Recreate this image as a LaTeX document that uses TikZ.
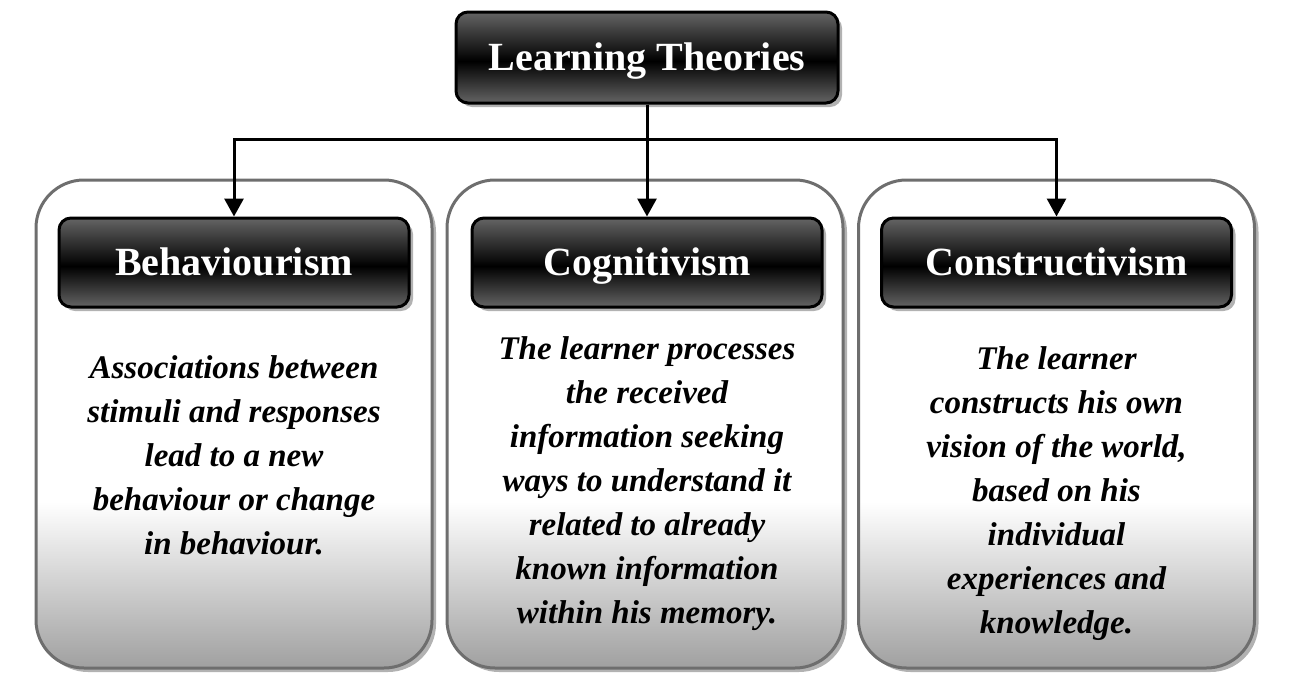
\documentclass[tikz,border=0pt]{standalone}
\usepackage{fontspec}
\setmainfont{Liberation Serif}
\usetikzlibrary{shadows,arrows.meta,calc}

\definecolor{hdgray}{RGB}{100,100,100}
\definecolor{pnlgray}{RGB}{160,160,160}
\definecolor{pnlborder}{RGB}{110,110,110}

% glossy dark fill for the title and heading boxes
\pgfdeclareverticalshading{glossdark}{100bp}{color(0bp)=(hdgray); color(25bp)=(hdgray); color(48bp)=(black); color(75bp)=(hdgray); color(100bp)=(hdgray)}
% white panel fading to grey at the bottom
\pgfdeclareverticalshading{panelfade}{100bp}{color(0bp)=(pnlgray); color(25bp)=(pnlgray); color(42bp)=(white); color(100bp)=(white)}

\tikzset{
  softshadow/.style={drop shadow={shadow xshift=4pt, shadow yshift=-4pt, fill=black, opacity=0.3}},
  panel/.style={draw=pnlborder, line width=3pt, rounded corners=48pt,
    minimum width=396pt, minimum height=488pt, shading=panelfade, softshadow},
  headbox/.style={draw=black, line width=3pt, rounded corners=12pt,
    minimum width=350pt, minimum height=89pt, shading=glossdark, softshadow,
    text=white, text height=31pt, text depth=5pt,
    font=\fontsize{40}{48}\selectfont\bfseries},
  body/.style={align=center, text=black, font=\fontsize{33}{44}\selectfont\bfseries\itshape},
  conn/.style={line width=3pt, -{Triangle[width=19pt,length=18pt]}},
}

\begin{document}
\begin{tikzpicture}[x=1pt,y=-1pt]
  \useasboundingbox (0,0) rectangle (1291,694);

  % panels
  \node[panel] (p1) at (234,424) {};
  \node[panel] (p2) at (645,424) {};
  \node[panel] (p3) at (1056.5,424) {};

  % title and headings
  \node[headbox, minimum width=382pt, minimum height=91pt] (title) at (647,57.5) {Learning Theories};
  \node[headbox] (h1) at (234,262.5) {Behaviourism};
  \node[headbox] (h2) at (647,262.5) {Cognitivism};
  \node[headbox] (h3) at (1056.5,262.5) {Constructivism};

  % descriptions
  \node[body] (t1) at (234,455) {Associations between\\stimuli and responses\\lead to a new\\behaviour or change\\in behaviour.};
  \node[body] (t2) at (647,484) {The learner processes\\the received\\information seeking\\ways to understand it\\related to already\\known information\\within his memory.};
  \node[body] (t3) at (1056.5,494) {The learner\\constructs his own\\vision of the world,\\based on his\\individual\\experiences and\\knowledge.};

  % connectors
  \coordinate (bus) at ($(title.south)+(0,35)$);
  \draw[conn] (title.south) -- (bus) -| (h1.north);
  \draw[conn] (title.south) -- (bus) -| (h3.north);
  \draw[conn] (title.south) -- (h2.north);
\end{tikzpicture}
\end{document}
